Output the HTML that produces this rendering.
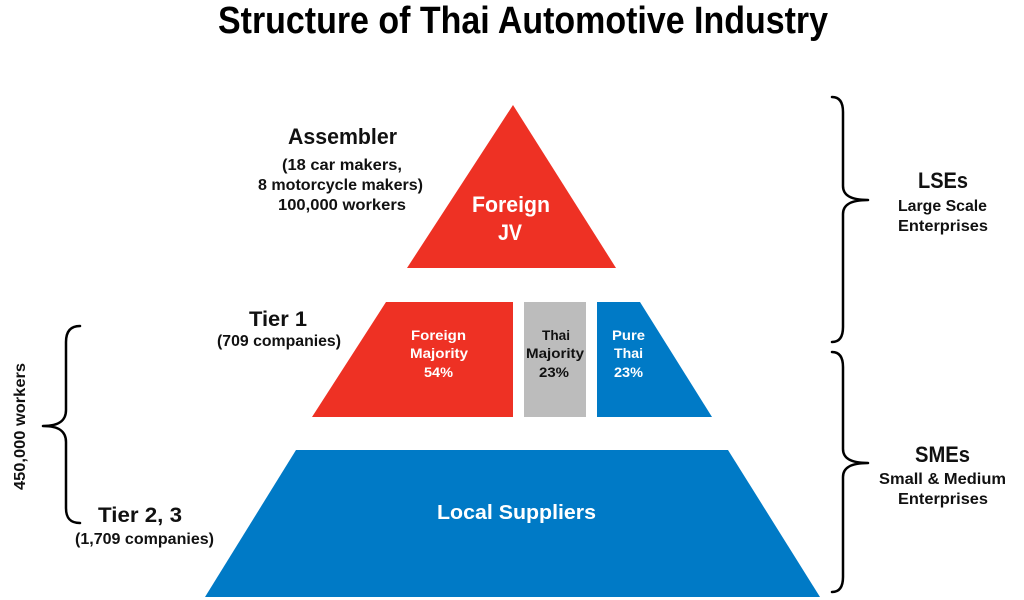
<!DOCTYPE html>
<html>
<head>
<meta charset="utf-8">
<style>
  html, body { margin: 0; padding: 0; background: #ffffff; }
  body { width: 1024px; height: 600px; overflow: hidden; }
  svg { display: block; }
  text { font-family: "Liberation Sans", "DejaVu Sans", sans-serif; font-weight: bold; }
</style>
</head>
<body>
<svg width="1024" height="600" viewBox="0 0 1024 600" xmlns="http://www.w3.org/2000/svg">
  <rect width="1024" height="600" fill="#ffffff"/>

  <!-- Title -->
  <text x="218" y="33" font-size="38" fill="#000" textLength="610" lengthAdjust="spacingAndGlyphs">Structure of Thai Automotive Industry</text>

  <!-- Shapes -->
  <polygon points="513,105 616,268 407,268" fill="#EE3124"/>
  <polygon points="386,302 513,302 513,417 312,417" fill="#EE3124"/>
  <rect x="524" y="302" width="62" height="115" fill="#BCBCBC"/>
  <polygon points="597,302 640,302 712,417 597,417" fill="#007AC6"/>
  <polygon points="296,450 728,450 820,597 205,597" fill="#007AC6"/>

  <!-- Braces -->
  <g fill="none" stroke="#000" stroke-width="2.5" stroke-linecap="round" stroke-linejoin="round">
    <path d="M80 326 C70 326 66 332 66 342 L66 410 C66 420 60 426 43 426 C60 426 66 432 66 442 L66 508 C66 518 70 523 80 523"/>
    <path d="M832 97 C840 97 843 103 843 112 L843 186 C843 195 850 200 868 200 C850 200 843 205 843 214 L843 327 C843 336 840 342 832 342"/>
    <path d="M832 352 C840 352 843 358 843 367 L843 449 C843 458 850 463 868 463 C850 463 843 468 843 477 L843 577 C843 586 840 592 832 592"/>
  </g>

  <!-- Assembler labels -->
  <text x="288" y="144" font-size="22" fill="#111" textLength="109" lengthAdjust="spacingAndGlyphs">Assembler</text>
  <text x="282" y="170" font-size="16" fill="#111" textLength="120" lengthAdjust="spacingAndGlyphs">(18 car makers,</text>
  <text x="258" y="190" font-size="16" fill="#111" textLength="165" lengthAdjust="spacingAndGlyphs">8 motorcycle makers)</text>
  <text x="278" y="210" font-size="16" fill="#111" textLength="128" lengthAdjust="spacingAndGlyphs">100,000 workers</text>

  <!-- Top triangle text -->
  <text x="472" y="212" font-size="22" fill="#fff" textLength="78" lengthAdjust="spacingAndGlyphs">Foreign</text>
  <text x="498" y="240" font-size="22" fill="#fff" textLength="24" lengthAdjust="spacingAndGlyphs">JV</text>

  <!-- Tier 1 labels -->
  <text x="249" y="326" font-size="21" fill="#111" textLength="58" lengthAdjust="spacingAndGlyphs">Tier 1</text>
  <text x="217" y="346" font-size="16" fill="#111" textLength="124" lengthAdjust="spacingAndGlyphs">(709 companies)</text>

  <!-- Tier 1 inner text -->
  <text x="411" y="340" font-size="14" fill="#fff" textLength="55" lengthAdjust="spacingAndGlyphs">Foreign</text>
  <text x="410" y="358" font-size="14" fill="#fff" textLength="58" lengthAdjust="spacingAndGlyphs">Majority</text>
  <text x="424" y="377" font-size="14" fill="#fff" textLength="29" lengthAdjust="spacingAndGlyphs">54%</text>

  <text x="542" y="340" font-size="14" fill="#111" textLength="28" lengthAdjust="spacingAndGlyphs">Thai</text>
  <text x="526" y="358" font-size="14" fill="#111" textLength="58" lengthAdjust="spacingAndGlyphs">Majority</text>
  <text x="539" y="377" font-size="14" fill="#111" textLength="30" lengthAdjust="spacingAndGlyphs">23%</text>

  <text x="612" y="340" font-size="14" fill="#fff" textLength="33" lengthAdjust="spacingAndGlyphs">Pure</text>
  <text x="614" y="358" font-size="14" fill="#fff" textLength="29" lengthAdjust="spacingAndGlyphs">Thai</text>
  <text x="614" y="377" font-size="14" fill="#fff" textLength="29" lengthAdjust="spacingAndGlyphs">23%</text>

  <!-- Tier 2,3 labels -->
  <text x="98" y="522" font-size="21" fill="#111" textLength="84" lengthAdjust="spacingAndGlyphs">Tier 2, 3</text>
  <text x="75" y="544" font-size="16" fill="#111" textLength="139" lengthAdjust="spacingAndGlyphs">(1,709 companies)</text>

  <text x="437" y="519" font-size="20" fill="#fff" textLength="159" lengthAdjust="spacingAndGlyphs">Local Suppliers</text>

  <!-- Rotated workers label -->
  <text transform="translate(25,427) rotate(-90)" x="-63" y="0" font-size="16" fill="#111" textLength="127" lengthAdjust="spacingAndGlyphs">450,000 workers</text>

  <!-- Right labels -->
  <text x="918" y="188" font-size="22" fill="#111" textLength="50" lengthAdjust="spacingAndGlyphs">LSEs</text>
  <text x="898" y="211" font-size="16" fill="#111" textLength="89" lengthAdjust="spacingAndGlyphs">Large Scale</text>
  <text x="898" y="231" font-size="16" fill="#111" textLength="90" lengthAdjust="spacingAndGlyphs">Enterprises</text>

  <text x="915" y="462" font-size="22" fill="#111" textLength="55" lengthAdjust="spacingAndGlyphs">SMEs</text>
  <text x="879" y="484" font-size="16" fill="#111" textLength="127" lengthAdjust="spacingAndGlyphs">Small &amp; Medium</text>
  <text x="898" y="504" font-size="16" fill="#111" textLength="90" lengthAdjust="spacingAndGlyphs">Enterprises</text>
</svg>
</body>
</html>
